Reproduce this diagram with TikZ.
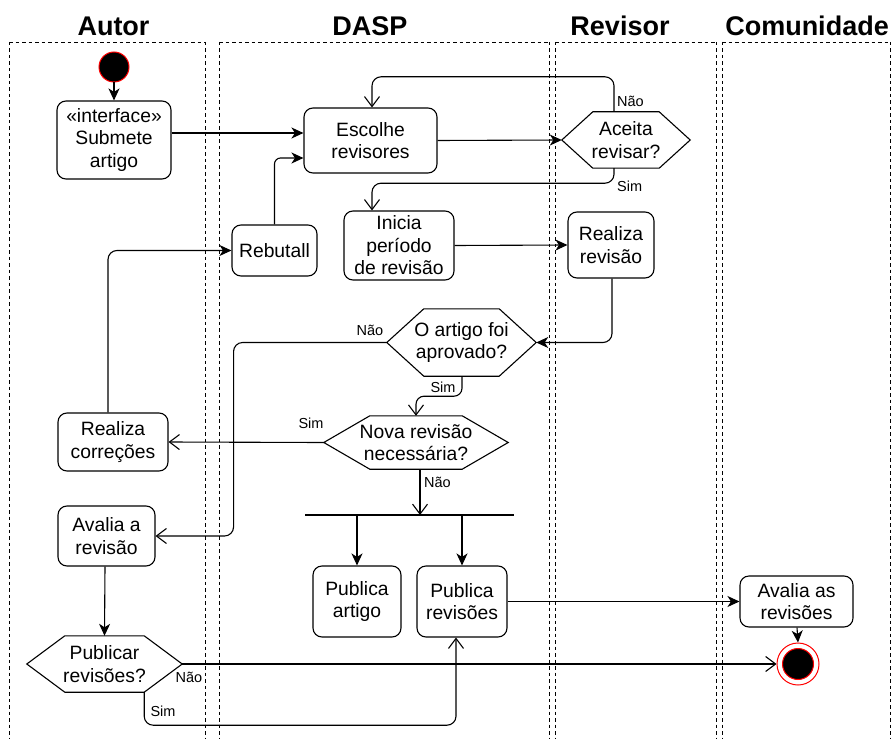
\documentclass[tikz,border=0pt]{standalone}
\usepackage{fontspec}
\setmainfont{Liberation Sans}
\usetikzlibrary{arrows.meta}
\tikzset{
  box/.style={draw, line width=1.1pt, rounded corners=9pt, fill=white, align=center,
    inner sep=0pt, font=\fontsize{19.3}{22.5}\selectfont},
  hexnode/.style={draw=none, align=center, inner sep=0pt, font=\fontsize{19.3}{22.5}\selectfont},
  lane/.style={draw, line width=0.9pt, dash pattern=on 3.5pt off 3pt},
  header/.style={font=\fontsize{27}{30}\bfseries\selectfont},
  lbl/.style={font=\fontsize{14.5}{16}\selectfont, inner sep=0pt},
  fa/.style={line width=1.1pt, -{Stealth[length=12pt,width=11pt,inset=3.5pt]}},
  oa/.style={line width=1.1pt, -{Straight Barb[length=10pt,width=15pt]}},
  ln/.style={line width=1.1pt},
}
\newcommand{\hexdraw}[2]{%
  \draw[line width=1.1pt, fill=white, line join=miter] (#1.west) -- ([xshift=#2]#1.north west) -- ([xshift=-#2]#1.north east)
   -- (#1.east) -- ([xshift=-#2]#1.south east) -- ([xshift=#2]#1.south west) -- cycle;}
\begin{document}
\begin{tikzpicture}[x=1pt,y=-1pt]
\useasboundingbox[fill=white] (0,0) rectangle (893,738);
% lanes
\draw[lane] (9,42) -- (205,42);
\draw[lane] (9,42) -- (9,745); \draw[lane] (205,42) -- (205,745);
\draw[lane] (219,42) -- (549,42);
\draw[lane] (219,42) -- (219,745); \draw[lane] (549,42) -- (549,745);
\draw[lane] (555,42) -- (716,42);
\draw[lane] (555,42) -- (555,745); \draw[lane] (716,42) -- (716,745);
\draw[lane] (722,42) -- (890,42);
\draw[lane] (722,42) -- (722,745); \draw[lane] (890,42) -- (890,745);
\node[header] (hAutor) at (113.5,26) {Autor};
\node[header] (hDasp) at (370,26) {DASP};
\node[header] (hRev) at (620,26) {Revisor};
\node[header] (hCom) at (807,26) {Comunidade};

% nodes
\node[circle, draw=red, fill=black, line width=1pt, minimum size=30pt, inner sep=0pt] (start) at (114,67) {};
\node[box, minimum width=114pt, minimum height=78pt] (submit) at (114,140) {«interface»\\Submete\\artigo};
\node[box, minimum width=133pt, minimum height=65pt] (escolhe) at (370.5,140.5) {Escolhe\\revisores};
\node[hexnode, minimum width=128pt, minimum height=56pt] (aceita) at (626,140) {};
\hexdraw{aceita}{31pt}
\node[hexnode] at (aceita) {Aceita\\revisar?};
\node[box, minimum width=85pt, minimum height=51pt] (rebutall) at (274.5,250.5) {Rebutall};
\node[box, minimum width=110pt, minimum height=69pt] (inicia) at (399,245.5) {Inicia\\período\\de revisão};
\node[box, minimum width=86pt, minimum height=66pt] (revisao) at (611,245) {Realiza\\revisão};
\node[hexnode, minimum width=149pt, minimum height=67pt] (artigo) at (461.5,342.5) {};
\hexdraw{artigo}{37pt}
\node[hexnode] at (artigo) {O artigo foi\\aprovado?};
\node[hexnode, minimum width=184pt, minimum height=53pt] (nova) at (416,442.5) {};
\hexdraw{nova}{46pt}
\node[hexnode] at (nova) {Nova revisão\\necessária?};
\node[box, minimum width=110pt, minimum height=58pt] (correcoes) at (113,442) {Realiza\\correções};
\node[box, minimum width=97pt, minimum height=60pt] (avalia) at (106.5,536) {Avalia a\\revisão};
\coordinate (forkL) at (305,515);
\coordinate (forkR) at (514,515);
\node[box, minimum width=88pt, minimum height=71pt] (pubart) at (357,601.5) {Publica\\artigo};
\node[box, minimum width=90pt, minimum height=71pt] (pubrev) at (462,601.5) {Publica\\revisões};
\node[box, minimum width=113pt, minimum height=51pt] (avaliaas) at (796.5,601.5) {Avalia as\\revisões};
\node[hexnode, minimum width=155pt, minimum height=56pt] (publicar) at (104.5,664) {};
\hexdraw{publicar}{38pt}
\node[hexnode] at (publicar) {Publicar\\revisões?};
\node[circle, draw=red, fill=white, line width=1pt, minimum size=42pt, inner sep=0pt] (endc) at (798,664) {};
\node[circle, draw=red, fill=black, line width=1pt, minimum size=31pt, inner sep=0pt] (endin) at (798,664) {};

% connectors
\draw[fa] (start) -- (submit.north);
\draw[fa] ([yshift=7pt]submit.east) -- ([yshift=7.5pt]escolhe.west);
\draw[fa, rounded corners=6pt] (rebutall.north) |- ([yshift=-17.5pt]escolhe.west);
\draw[fa] (escolhe.east) -- (aceita.west);
\draw[oa, rounded corners=9pt] ([xshift=-12pt]aceita.north) -- ++(0,-35) -| ([xshift=1.5pt]escolhe.north);
\node[lbl, anchor=west] (lNao1) at (617,101) {Não};
\draw[oa, rounded corners=9pt] ([xshift=-12pt]aceita.south) -- ++(0,15) -| ([xshift=-27pt]inicia.north);
\node[lbl, anchor=west] (lSim1) at (617,186) {Sim};
\draw[fa] (inicia.east) -- (revisao.west);
\draw[fa, rounded corners=9pt] ([xshift=1pt]revisao.south) |- (artigo.east);
\draw[oa, rounded corners=9pt] (artigo.west) -| ([xshift=78pt]avalia.east) -- (avalia.east);
\node[lbl] (lNao2) at (370,330) {Não};
\draw[oa, rounded corners=8pt] ([xshift=0.5pt]artigo.south) -- ++(0,20) -| (nova.north);
\node[lbl] (lSim2) at (443,387) {Sim};
\draw[oa] (nova.west) -- (correcoes.east);
\node[lbl] (lSim3) at (311,423) {Sim};
\draw[oa] ([xshift=4pt]nova.south) -- ([xshift=4pt]nova.south |- forkL);
\node[lbl, anchor=west] (lNao3) at (424,482) {Não};
\draw[ln] (forkL) -- (forkR);
\draw[fa] (pubart.north |- forkL) -- (pubart.north);
\draw[fa] (pubrev.north |- forkL) -- (pubrev.north);
\draw[fa, rounded corners=9pt] ([xshift=-5pt]correcoes.north) |- (rebutall.west);
\draw[fa] ([xshift=-1.5pt]avalia.south) -- (publicar.north);
\draw[oa] (publicar.east) -- (endc.west);
\node[lbl] (lNao4) at (189,677) {Não};
\draw[oa, rounded corners=9pt] ([xshift=-38pt]publicar.south east) -- ++(0,33) -| ([xshift=-6pt]pubrev.south);
\node[lbl] (lSim4) at (163,711) {Sim};
\draw[fa] (pubrev.east) -- (avaliaas.west);
\draw[fa] ([xshift=0.5pt]avaliaas.south) -- (endc.north);
\end{tikzpicture}
\end{document}
